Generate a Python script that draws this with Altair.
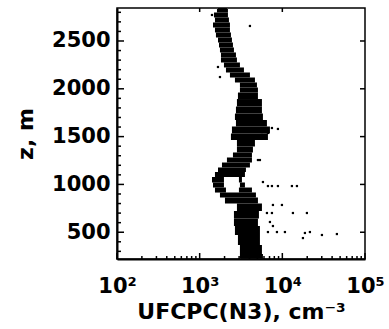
import altair as alt
import pandas as pd

# Vertical profile of ultrafine CPC (N3) concentration: core band edges by altitude
band_z = [2845, 2824, 2772, 2720, 2667, 2615, 2563, 2510, 2458, 2406, 2354, 2301,
          2249, 2197, 2144, 2092, 2040, 1987, 1935, 1851, 1778, 1705, 1642, 1569,
          1496, 1433, 1360, 1308, 1255, 1203, 1151, 1109, 1046, 994, 941, 889,
          837, 764, 680, 607, 523, 419, 314, 230, 220]
band_lo = [1665, 1619, 1489, 1531, 1449, 1531, 1574, 1665, 1712, 1760, 1810, 1810,
           1967, 2080, 2324, 2671, 3070, 3070, 2904, 2824, 2747, 2671, 2747, 2457,
           2390, 2824, 2824, 2527, 2138, 1861, 1665, 1531, 1409, 1449, 1531, 1760,
           2023, 2824, 2598, 2598, 2671, 2904, 3070, 3070, 3157]
band_hi = [2138, 2198, 2198, 2260, 2324, 2324, 2390, 2457, 2527, 2598, 2747, 2824,
           3070, 3432, 4056, 4663, 4930, 5069, 5069, 5666, 5666, 5826, 6512, 7080,
           6696, 4663, 4410, 4289, 4289, 4056, 3628, 3529, 3246, 3529, 4289, 4794,
           5069, 5666, 5212, 5069, 5358, 5358, 5666, 5826, 5826]

# Gap between the two branches of the loop near 1 km
gap_z = [1046, 994, 941]
gap_lo = [1967, 1967, 2080]
gap_hi = [2985, 3070, 2985]

# Isolated samples away from the core band
pt_v = [4056, 5826, 6696, 7486, 8846, 13060, 15020, 7697, 9890, 6512, 7486, 13430,
        19830, 7080, 7697, 6696, 8604, 10750, 18760, 21560, 17750, 30130, 45710,
        6159, 7486, 8846, 6696, 5666, 1409, 1665, 1760, 5069, 5358]
pt_z = [2657, 1025, 983, 983, 983, 983, 983, 785, 785, 701, 701, 701,
        701, 607, 565, 502, 502, 502, 492, 502, 439, 471, 481,
        1569, 1590, 1580, 1538, 1517, 2772, 2228, 2123, 1255, 1255]

y_major = [500, 1000, 1500, 2000, 2500]
y_minor = [z for z in range(300, 2900, 100) if z % 500 != 0]
x_major = [100, 1000, 10000, 100000]
x_minor = [m * d for d in (100, 1000, 10000) for m in range(2, 10)]

W, H = 248, 251
FONT = "DejaVu Sans"

# Each altitude level becomes a slab reaching halfway to its neighbours;
# levels inside the loop are split in two around the hollow centre.
rows = []
n = len(band_z)
for i, (z, lo, hi) in enumerate(zip(band_z, band_lo, band_hi)):
    z_top = z if i == 0 else (band_z[i - 1] + z) / 2
    z_bot = z if i == n - 1 else (band_z[i + 1] + z) / 2
    if z in gap_z:
        k = gap_z.index(z)
        rows.append(dict(lo=lo, hi=gap_lo[k], z1=z_bot, z2=z_top))
        rows.append(dict(lo=gap_hi[k], hi=hi, z1=z_bot, z2=z_top))
    else:
        rows.append(dict(lo=lo, hi=hi, z1=z_bot, z2=z_top))
band = pd.DataFrame(rows)
points = pd.DataFrame({"v": pt_v, "z": pt_z})

xscale = alt.Scale(type="log", domain=[100, 100000], nice=False)
yscale = alt.Scale(domain=[220, 2845], nice=False, zero=False)

label_expr = ("datum.value == 100 ? '10²' : datum.value == 1000 ? '10³' : "
              "datum.value == 10000 ? '10⁴' : '10⁵'")

x_axis = alt.Axis(values=x_major, labelExpr=label_expr, ticks=False, grid=False,
                  title="UFCPC(N3), cm⁻³", labelPadding=16, titlePadding=5,
                  labelFlush=False, domainWidth=2, domainColor="black")
y_axis = alt.Axis(values=y_major, format="d", ticks=False, grid=False,
                  title="z, m", labelPadding=7, titlePadding=14, domainWidth=2,
                  domainColor="black")

core = alt.Chart(band).mark_rect(color="black").encode(
    y=alt.Y("z1:Q", scale=yscale, axis=y_axis),
    y2="z2:Q",
    x=alt.X("lo:Q", scale=xscale, axis=x_axis),
    x2="hi:Q",
)

dots = alt.Chart(points).mark_square(size=5, color="black", opacity=1).encode(
    x=alt.X("v:Q", scale=xscale, axis=x_axis),
    y=alt.Y("z:Q", scale=yscale, axis=y_axis),
)


def yticks(vals, x0, x1):
    return alt.Chart(pd.DataFrame({"z": vals})).mark_rule(
        color="black", strokeWidth=1.5).encode(
        y=alt.Y("z:Q", scale=yscale, axis=y_axis),
        x=alt.value(x0), x2=alt.value(x1))


def xticks(vals, y0, y1):
    return alt.Chart(pd.DataFrame({"v": vals})).mark_rule(
        color="black", strokeWidth=1.5).encode(
        x=alt.X("v:Q", scale=xscale, axis=x_axis),
        y=alt.value(y0), y2=alt.value(y1))


chart = alt.layer(
    core,
    dots,
    yticks(y_major, 0, 7),
    yticks(y_minor, 0, 4),
    yticks(y_major, W, W - 5),
    xticks(x_major, H, H - 6),
    xticks(x_minor, H, H - 3),
    xticks(x_major[1:3], 0, 4),
).properties(
    width=W, height=H,
    autosize="none",
    background="white",
    padding={"left": 117, "top": 8, "right": 24, "bottom": 70},
).configure_view(
    stroke="black", strokeWidth=1.5
).configure_axis(
    labelFont=FONT, titleFont=FONT, labelFontSize=21, titleFontSize=22,
    labelFontWeight="bold", titleFontWeight="bold",
    labelColor="black", titleColor="black",
)

chart.save("out.html", embed_options={"renderer": "svg", "actions": False})
